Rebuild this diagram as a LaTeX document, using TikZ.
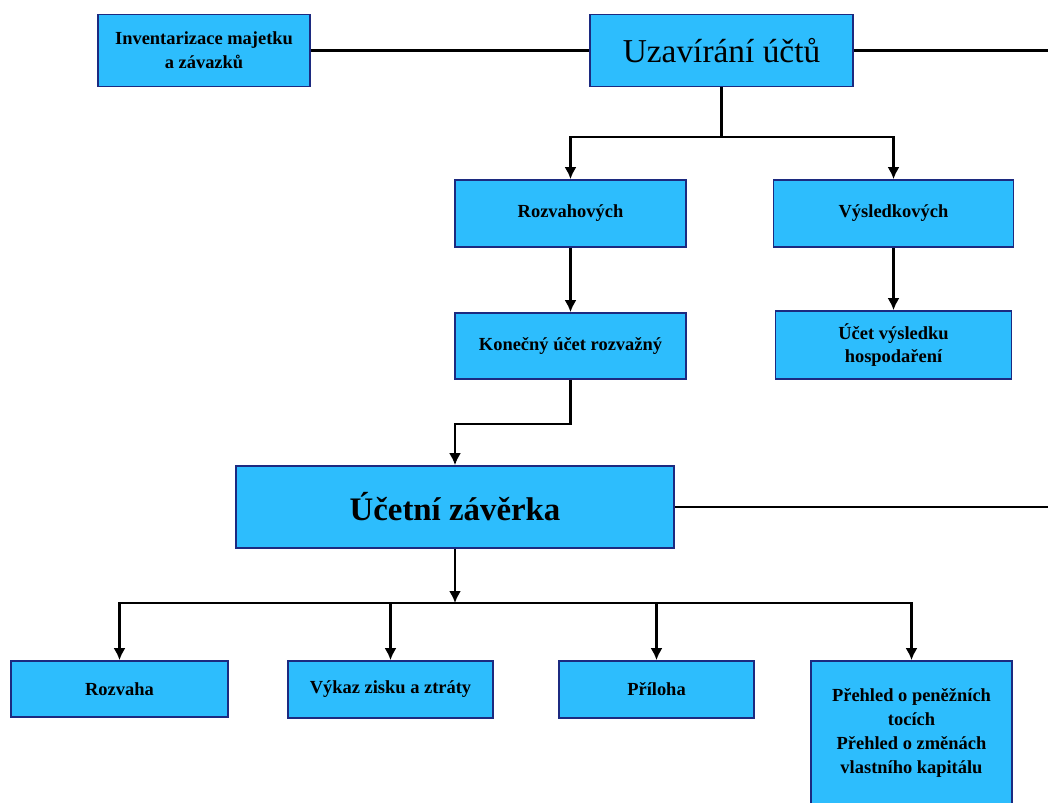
\documentclass[tikz,border=0pt]{standalone}
\usepackage{fontspec}
\setmainfont{Liberation Serif}
\usetikzlibrary{arrows.meta,positioning}
\definecolor{sky}{HTML}{2DBDFD}
\definecolor{navy}{HTML}{1C2A80}

\begin{document}
\begin{tikzpicture}[
  font=\fontsize{10.5}{13.5}\selectfont\bfseries,
  link/.style={line width=1.2pt,draw=black},
  flow/.style={link,-{Latex[length=2.4mm,width=2.4mm]}},
  box/.style={draw=navy,fill=sky,line width=1pt,align=center,inner sep=3pt},
  title/.style={box,font=\fontsize{19}{22}\selectfont},
  bigtitle/.style={box,font=\fontsize{18.7}{22}\selectfont\bfseries}
]
\useasboundingbox (0,0) rectangle (20.96,-16.06);

\node[box,minimum width=4.24cm,minimum height=1.44cm] (inv) at (4.08,-1.01)
  {Inventarizace majetku\\a závazků};
\node[title,minimum width=5.26cm,minimum height=1.44cm] (uzav) at (14.43,-1.01)
  {Uzavírání účtů};
\node[box,minimum width=4.62cm,minimum height=1.34cm] (rozv) at (11.41,-4.27)
  {Rozvahových};
\node[box,minimum width=4.80cm,minimum height=1.34cm] (vysl) at (17.87,-4.27)
  {Výsledkových};
\node[box,minimum width=4.62cm,minimum height=1.32cm] (konec) at (11.41,-6.92)
  {Konečný účet rozvažný};
\node[box,minimum width=4.72cm,minimum height=1.36cm] (ucet) at (17.87,-6.90)
  {Účet výsledku\\hospodaření};
\node[bigtitle,minimum width=8.76cm,minimum height=1.64cm] (zaverka) at (9.10,-10.14)
  {Účetní závěrka};
\node[box,minimum width=4.34cm,minimum height=1.12cm] (rozvaha) at (2.39,-13.78)
  {Rozvaha};
\node[box,minimum width=4.10cm,minimum height=1.14cm] (vykaz) at (7.81,-13.79)
  {Výkaz zisku a ztráty};
\node[box,minimum width=3.90cm,minimum height=1.14cm] (priloha) at (13.13,-13.79)
  {Příloha};
\node[box,minimum width=4.02cm,minimum height=2.88cm] (prehled) at (18.23,-14.66)
  {Přehled o peněžních\\tocích\\Přehled o změnách\\vlastního kapitálu};

% junctions and the two lines that leave the page on the right
\coordinate (split1) at (14.43,-2.74);
\coordinate (jog) at (11.41,-8.48);
\coordinate (split2) at (9.10,-12.06);
\coordinate (rim1) at (21.2,-1.01);
\coordinate (rim2) at (21.2,-10.14);

\draw[link] (inv) -- (uzav);
\draw[link] (uzav) -- (rim1);
\draw[link] (uzav) -- (split1);
\draw[flow] (split1) -| (rozv);
\draw[flow] (split1) -| (vysl);
\draw[flow] (rozv) -- (konec);
\draw[flow] (vysl) -- (ucet);
\draw[flow] (konec) -- (jog) -| (zaverka);
\draw[link] (zaverka) -- (rim2);

\draw[flow] (zaverka) -- (split2);
\draw[flow] (split2) -| (rozvaha);
\draw[flow] (split2) -| (vykaz);
\draw[flow] (split2) -| (priloha);
\draw[flow] (split2) -| (prehled);
\end{tikzpicture}
\end{document}
